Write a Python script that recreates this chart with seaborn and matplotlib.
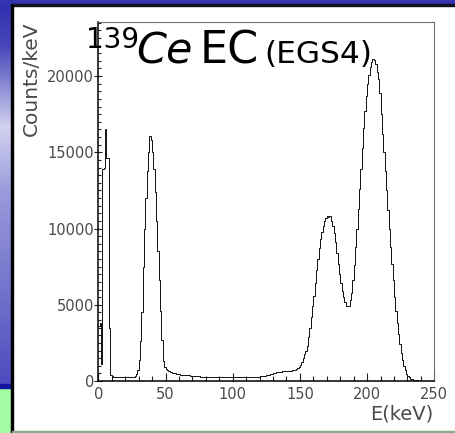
import numpy as np
import pandas as pd
import matplotlib
matplotlib.use("Agg")
import matplotlib.pyplot as plt
import seaborn as sns
from matplotlib.colors import LinearSegmentedColormap
from matplotlib.patches import Rectangle
from matplotlib.ticker import MultipleLocator

# 1 keV bins from 0 to 250 keV
bin_edges_kev = np.arange(0, 251, 1)

# Simulated 139Ce electron-capture spectrum (counts per keV), one value per bin
counts_0_49 = [
    3600, 3800, 1100, 13900, 14000, 16500, 14600, 14600, 3500, 420,
    300, 270, 250, 240, 240, 230, 230, 230, 230, 230,
    230, 240, 240, 240, 250, 260, 270, 300, 450, 750,
    1400, 2600, 4500, 7500, 10000, 12000, 13800, 15000, 16050, 15800,
    15000, 13900, 12400, 10500, 8500, 6600, 4600, 2700, 1300, 900,
]
counts_50_99 = [
    780, 700, 650, 610, 580, 550, 520, 500, 470, 450,
    430, 420, 410, 400, 390, 380, 370, 365, 360, 350,
    340, 330, 320, 315, 310, 300, 295, 290, 285, 280,
    275, 270, 265, 260, 255, 250, 250, 245, 245, 240,
    240, 240, 240, 240, 245, 245, 250, 250, 255, 260,
]
counts_100_149 = [
    260, 265, 270, 270, 275, 280, 280, 285, 285, 290,
    290, 290, 290, 285, 285, 280, 280, 280, 285, 290,
    300, 310, 320, 340, 360, 380, 400, 420, 450, 480,
    510, 540, 560, 580, 600, 610, 620, 630, 640, 640,
    650, 660, 670, 680, 690, 700, 730, 780, 850, 950,
]
counts_150_199 = [
    1050, 1250, 1500, 1750, 2000, 2300, 2900, 3500, 4200, 4900,
    5600, 6400, 7300, 8000, 8700, 9300, 9800, 10200, 10500, 10700,
    10800, 10750, 10800, 10500, 10200, 9700, 9100, 8400, 7700, 7000,
    6400, 5900, 5500, 5200, 4950, 4900, 4950, 5300, 5800, 6600,
    7600, 8800, 10000, 11300, 12600, 13900, 15300, 16600, 17700, 18700,
]
counts_200_249 = [
    19500, 20100, 20600, 20900, 21150, 21050, 20800, 20300, 19800, 18900,
    17500, 16200, 15000, 13800, 12500, 11200, 10000, 8800, 7700, 6600,
    5500, 4600, 3800, 3100, 2400, 1850, 1400, 1000, 700, 480,
    330, 230, 160, 110, 80, 60, 45, 35, 25, 15,
    10, 5, 0, 0, 0, 0, 0, 0, 0, 0,
]
counts_per_kev = (counts_0_49 + counts_50_99 + counts_100_149
                  + counts_150_199 + counts_200_249)

x_ticks = [0, 50, 100, 150, 200, 250]
y_ticks = [0, 5000, 10000, 15000, 20000]

sns.set_style("ticks")
plt.rcParams["font.family"] = ["DejaVu Sans"]

W, H = 456, 433
fig = plt.figure(figsize=(W / 100, H / 100), dpi=100)
fig.patch.set_facecolor("white")


def fx(px):
    return px / W


def fy(py):
    return 1 - py / H


# Slide decoration: blue gradient strip on the left, green block below it
strip_ax = fig.add_axes([0, fy(384), fx(11.5), fy(0) - fy(384)])
grad = LinearSegmentedColormap.from_list(
    "slide",
    [(0.0, "#2e2eae"), (0.12, "#4848ba"), (0.33, "#d2d2f0"),
     (0.5, "#9a9adc"), (0.75, "#7474cc"), (1.0, "#4c4cbe")])
strip_ax.imshow(np.linspace(0, 1, 256).reshape(-1, 1), aspect="auto",
                cmap=grad, extent=[0, 1, 1, 0])
strip_ax.set_axis_off()

fig.patches.append(Rectangle((0, fy(433)), fx(11.5), fy(388) - fy(433),
                             transform=fig.transFigure, color="#a2fca2", zorder=0))
fig.patches.append(Rectangle((0, fy(388)), fx(11.5), fy(384) - fy(388),
                             transform=fig.transFigure, color="#1414a0", zorder=0))
fig.patches.append(Rectangle((0, fy(4.5)), 1, fy(0) - fy(4.5),
                             transform=fig.transFigure, color="#3434b0", zorder=0))
fig.patches.append(Rectangle((fx(11), fy(6)), 1, fy(4.5) - fy(6),
                             transform=fig.transFigure, color="#101020", zorder=1))
fig.patches.append(Rectangle((fx(11), 0), fx(1.6), fy(4.5),
                             transform=fig.transFigure, color="#000000", zorder=1))
fig.patches.append(Rectangle((fx(12), 0), 1, fy(431) - fy(433),
                             transform=fig.transFigure, color="#8aa88a", zorder=1))

# Spectrum panel
ax = fig.add_axes([fx(98.3), fy(381), fx(434.3) - fx(98.3), fy(22) - fy(381)])
ax.set_facecolor("white")
spectrum = pd.DataFrame({
    "energy": bin_edges_kev[:-1] + 0.5,
    "counts": counts_per_kev,
})
sns.histplot(data=spectrum, x="energy", weights="counts", binwidth=1,
             binrange=(0, 250), element="step", fill=False, color="#111111",
             linewidth=0.7, ax=ax)

ax.set_xlim(0, 250)
ax.set_ylim(0, 23550)
ax.set_xticks(x_ticks)
ax.set_yticks(y_ticks)
ax.xaxis.set_minor_locator(MultipleLocator(10))
ax.yaxis.set_minor_locator(MultipleLocator(500))
ax.set_xlabel("")
ax.set_ylabel("")

label_color = "#4a4a4a"
ax.tick_params(axis="x", which="major", direction="in", length=5.5, width=0.8,
               pad=4.0, labelsize=10.5, labelcolor=label_color, color="#202020")
ax.tick_params(axis="x", which="minor", direction="in", length=3.5, width=0.8,
               color="#202020")
ax.tick_params(axis="y", which="major", direction="inout", length=6, width=0.8,
               pad=0, labelsize=10.5, labelcolor=label_color, color="#202020")
ax.tick_params(axis="y", which="minor", direction="in", length=2.5, width=0.8,
               color="#202020")

for side in ("left", "bottom"):
    ax.spines[side].set_color("black")
    ax.spines[side].set_linewidth(1.1)
for side in ("top", "right"):
    ax.spines[side].set_visible(True)
    ax.spines[side].set_color("#707070")
    ax.spines[side].set_linewidth(0.8)

# Axis titles
fig.text(fx(31), fy(21), "Counts/keV", rotation=90, ha="center", va="top",
         fontsize=14.5, color=label_color)
fig.text(fx(433), fy(420), "E(keV)", ha="right", va="baseline",
         fontsize=14, color=label_color)

# Plot title: 139Ce EC (EGS4)
fig.text(fx(86), fy(47.5), "139", ha="left", va="baseline", fontsize=20,
         color="black")
fig.text(fx(136), fy(63), "Ce", ha="left", va="baseline", fontsize=31,
         style="italic", color="black")
fig.text(fx(200), fy(63), "EC", ha="left", va="baseline", fontsize=32,
         color="black")
fig.text(fx(264), fy(63), "(EGS4)", ha="left", va="baseline", fontsize=22.5,
         color="black")

fig.savefig("out.png", dpi=100)
